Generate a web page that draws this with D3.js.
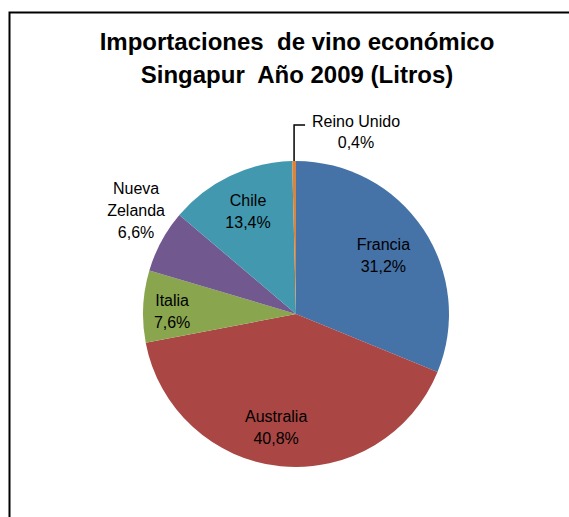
<!DOCTYPE html>
<html>
<head>
<meta charset="utf-8">
<script src="https://cdn.jsdelivr.net/npm/d3@7"></script>
<style>
  html, body { margin: 0; padding: 0; background: #fff; }
  svg { display: block; }
  .title { white-space: pre; }
</style>
</head>
<body>
<svg id="chart" width="569" height="517"></svg>
<script>
const titleLines = ["Importaciones  de vino económico", "Singapur  Año 2009 (Litros)"];
const categories = ["Francia", "Australia", "Italia", "Nueva Zelanda", "Chile", "Reino Unido"];
const values = [31.2, 40.8, 7.6, 6.6, 13.4, 0.4];
const colors = ["#4572A7", "#AA4643", "#89A54E", "#71588F", "#4198AF", "#DB843D"];

const W = 569, H = 517;
const cx = 296, cy = 314, R = 153;
const svg = d3.select("#chart");

// frame (extends past the right/bottom edges as in the reference)
svg.append("path")
  .attr("d", `M9.5,${H + 5} V12.5 H${W + 5}`)
  .attr("fill", "none").attr("stroke", "#000").attr("stroke-width", 2);

// title
svg.append("g").selectAll("text").data(titleLines).join("text")
  .attr("class", "title")
  .attr("xml:space", "preserve")
  .attr("x", 297)
  .attr("y", (d, i) => 50 + i * 33)
  .attr("text-anchor", "middle")
  .attr("font-family", "Liberation Sans, Arial, sans-serif")
  .attr("font-weight", "bold")
  .attr("font-size", 24)
  .attr("fill", "#000")
  .text(d => d);

const data = categories.map((c, i) => ({ name: c, value: values[i], color: colors[i] }));
const pie = d3.pie().sort(null).value(d => d.value);
const arcs = pie(data);
const arc = d3.arc().innerRadius(0).outerRadius(R);

const g = svg.append("g").attr("transform", `translate(${cx},${cy})`);
g.selectAll("path").data(arcs).join("path")
  .attr("d", arc)
  .attr("fill", d => d.data.color);

const fmt = v => d3.format(".1f")(v).replace(".", ",") + "%";

// label layout: radius factor and angular nudge (degrees)
const layout = {
  "Francia": { k: 0.69, da: -0.3 },
  "Australia": { k: 0.75, da: 4.2 },
  "Italia": { k: 0.81, da: -1.5 },
  "Nueva Zelanda": { k: 1.247, da: 4.6, lines: ["Nueva", "Zelanda"] },
  "Chile": { k: 0.74, da: 0.5 }
};
const lineH = 22;
const fontFamily = "Liberation Sans, Arial, sans-serif";

arcs.forEach(a => {
  const name = a.data.name;
  const mid = (a.startAngle + a.endAngle) / 2;
  if (name === "Reino Unido") {
    const px = R * Math.sin(mid), py = -R * Math.cos(mid);
    const topY = -189;
    g.append("path")
      .attr("d", `M${px},${py} V${topY} H${px + 11}`)
      .attr("fill", "none").attr("stroke", "#000").attr("stroke-width", 1.5);
    const t = g.append("text")
      .attr("text-anchor", "middle")
      .attr("font-family", fontFamily).attr("font-size", 16).attr("fill", "#000");
    [name, fmt(a.data.value)].forEach((s, i) => {
      t.append("tspan").attr("x", 60).attr("y", -187 + i * 21).text(s);
    });
    return;
  }
  const L = layout[name];
  const ang = mid + L.da * Math.PI / 180;
  const rr = L.k * R;
  const x = rr * Math.sin(ang), y = -rr * Math.cos(ang);
  const lines = (L.lines || [name]).concat([fmt(a.data.value)]);
  const n = lines.length;
  const t = g.append("text")
    .attr("text-anchor", "middle")
    .attr("font-family", fontFamily).attr("font-size", 16).attr("fill", "#000");
  lines.forEach((s, i) => {
    t.append("tspan")
      .attr("x", x)
      .attr("y", y - (n - 1) * lineH / 2 + i * lineH + 6)
      .text(s);
  });
});
</script>
</body>
</html>
